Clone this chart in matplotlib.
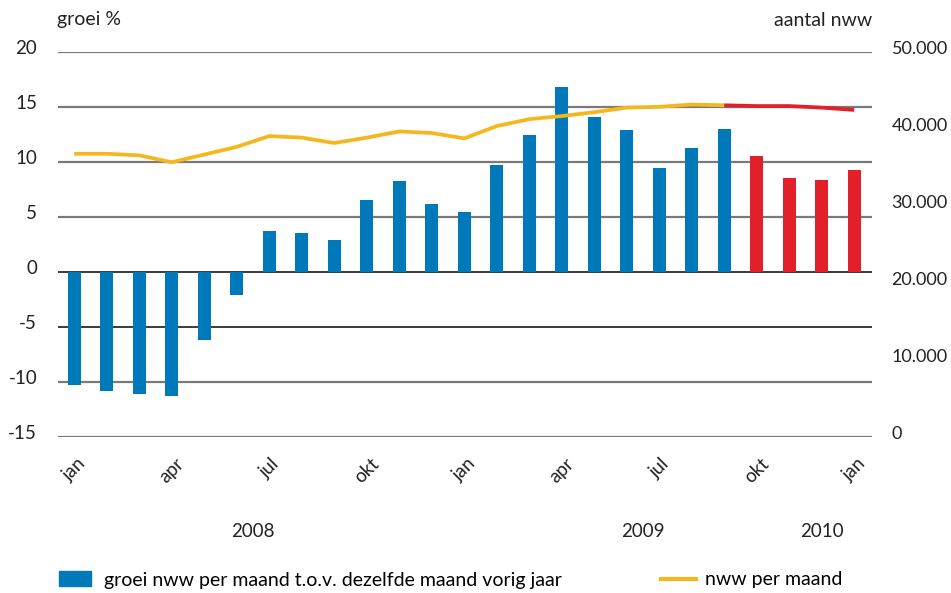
import matplotlib
matplotlib.use("Agg")
import matplotlib.pyplot as plt
import matplotlib.transforms as mtransforms
import matplotlib.patches as mpatches
from matplotlib.lines import Line2D
import numpy as np

plt.rcParams["font.family"] = ["Lato", "DejaVu Sans"]

# ── data
MONTHS = ["jan", "feb", "mrt", "apr", "mei", "jun", "jul", "aug", "sep", "okt", "nov", "dec",
          "jan", "feb", "mrt", "apr", "mei", "jun", "jul", "aug", "sep", "okt", "nov", "dec",
          "jan"]
GROWTH = [-10.3, -10.8, -11.1, -11.3, -6.2, -2.1, 3.7, 3.6, 2.9, 6.6, 8.3, 6.2,
          5.5, 9.7, 12.5, 16.8, 14.1, 12.9, 9.5, 11.3, 13.0, 10.6, 8.6, 8.4,
          9.3]
NWW = [36800, 36800, 36600, 35700, 36700, 37700, 39100, 38900, 38200, 38900, 39700, 39500,
       38800, 40400, 41300, 41700, 42200, 42800, 42900, 43200, 43100, 43000, 43000, 42800,
       42500]
N_ACTUAL = 21          # jan 2008 .. sep 2009 realised, rest is forecast
TICK_IDX = [0, 3, 6, 9, 12, 15, 18, 21, 24]
YEARS = ["2008", "2009", "2010"]
YEAR_POS = [5.5, 17.5, 23.0]

BLUE = "#0079BA"
RED = "#E2202A"
YELLOW = "#F4B71E"
TXT = "#222222"

LEFT_TICKS = [-15, -10, -5, 0, 5, 10, 15, 20]
RIGHT_TICKS = [0, 10000, 20000, 30000, 40000, 50000]

fig = plt.figure(figsize=(9.51, 5.93), dpi=100)
ax = fig.add_axes([0.061, 0.263, 0.856, 0.649])
ax2 = ax.twinx()

x = np.arange(len(GROWTH))
colors = [BLUE if i < N_ACTUAL else RED for i in x]

# ── gridlines
for t in LEFT_TICKS:
    if t in (0, -5):
        ax.axhline(t, color="#1a1a1a", lw=1.2, zorder=1)
    else:
        ax.axhline(t, color="#7a7a7a", lw=1.6, zorder=1)

ax.bar(x, GROWTH, width=0.4, color=colors, zorder=2)
ax.set_ylim(-15, 20)
ax.set_xlim(-0.5, 24.55)
ax.set_yticks(LEFT_TICKS)
ax.set_yticklabels([str(t) for t in LEFT_TICKS])

ax.set_xticks(TICK_IDX)
ax.set_xticklabels([MONTHS[i] for i in TICK_IDX], rotation=45, ha="center", va="top")

# ── line on the right axis
ax2.plot(x[:N_ACTUAL], NWW[:N_ACTUAL], color=YELLOW, lw=2.7, zorder=3, solid_capstyle="butt")
ax2.plot(x[N_ACTUAL - 1:], NWW[N_ACTUAL - 1:], color=RED, lw=2.7, zorder=3, solid_capstyle="butt")
ax2.set_ylim(0, 50000)
ax2.set_yticks(RIGHT_TICKS)
ax2.set_yticklabels([f"{t:,}".replace(",", ".") for t in RIGHT_TICKS])

for a in (ax, ax2):
    for s in a.spines.values():
        s.set_visible(False)
    a.tick_params(length=0, labelsize=13.5, colors=TXT)
ax.tick_params(axis="y", pad=15)
ax2.tick_params(axis="y", pad=14, labelsize=13)
ax.tick_params(axis="x", pad=13, labelsize=13.5)

# labels sit slightly above their gridlines
offset = mtransforms.ScaledTranslation(0, 5 / 100, fig.dpi_scale_trans)
for lab in ax.get_yticklabels() + ax2.get_yticklabels():
    lab.set_transform(lab.get_transform() + offset)

# ── titles and year labels
fig.text(57 / 951, 1 - 20 / 593, "groei %", fontsize=14, color=TXT, va="center", ha="left")
fig.text(872 / 951, 1 - 20 / 593, "aantal nww", fontsize=14, color=TXT, va="center", ha="right")
for yr, pos in zip(YEARS, YEAR_POS):
    ax.text(pos, -0.245, yr, transform=ax.get_xaxis_transform(), ha="center", va="center",
            fontsize=13.5, color=TXT)

# ── legend
handles = [mpatches.Patch(color=BLUE, label="groei nww per maand t.o.v. dezelfde maand vorig jaar")]
fig.legend(handles=handles, loc="center left", bbox_to_anchor=(41 / 951, 1 - 580 / 593),
           frameon=False, fontsize=14, handlelength=1.65, handleheight=0.8, handletextpad=0.67)
handles2 = [Line2D([0], [0], color=YELLOW, lw=3, label="nww per maand")]
fig.legend(handles=handles2, loc="center left", bbox_to_anchor=(643 / 951, 1 - 580 / 593),
           frameon=False, fontsize=14, handlelength=1.8, handletextpad=0.5)

fig.savefig("out.png", dpi=100)
